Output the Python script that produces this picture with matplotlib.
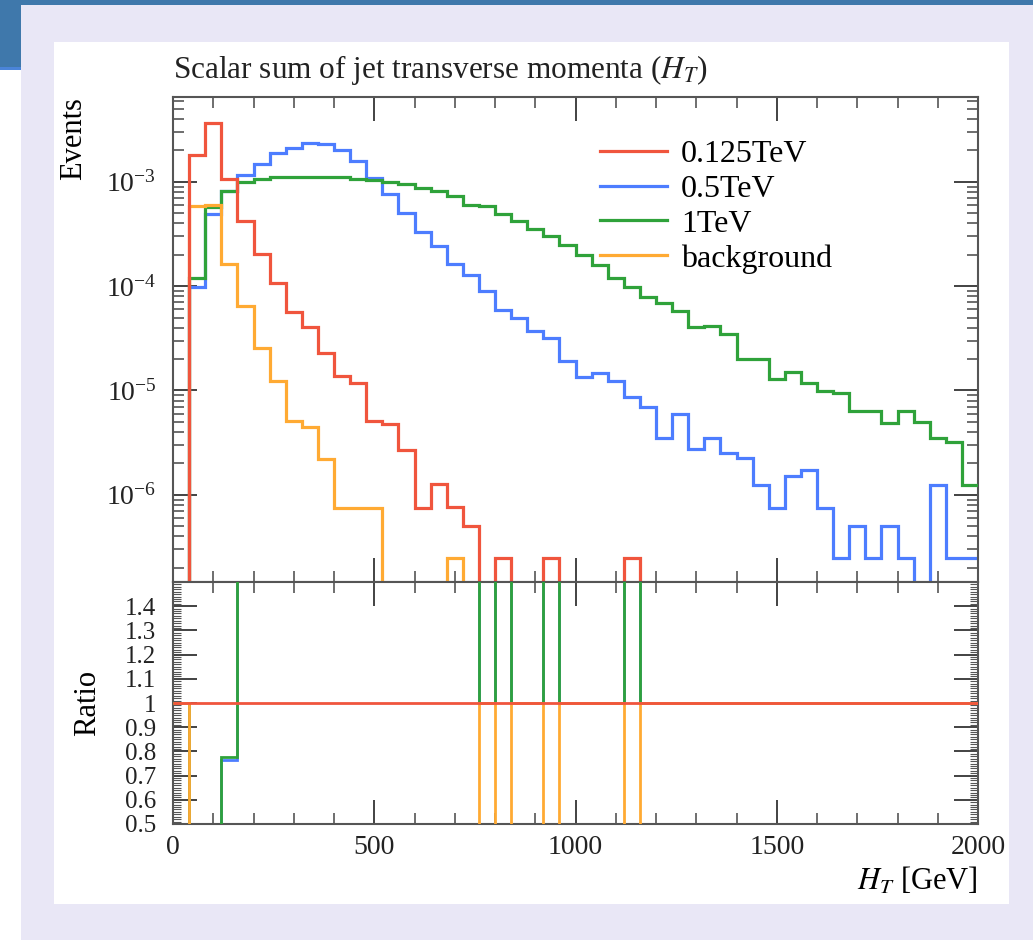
import numpy as np
import matplotlib
matplotlib.use('Agg')
import matplotlib.pyplot as plt
from matplotlib.patches import Rectangle
from matplotlib.ticker import MultipleLocator, LogLocator, NullFormatter, FixedLocator, FixedFormatter

plt.rcParams['font.family'] = ['Liberation Serif', 'DejaVu Serif']
plt.rcParams['mathtext.fontset'] = 'stix'

# 40 GeV bins from 0 to 2000 GeV
bin_edges = np.arange(0, 2001, 40)

# Normalised event counts per bin
ht_0125tev = [0, 1.8e-3, 3.7e-3, 1.06e-3, 4.2e-4, 2.03e-4, 1.08e-4, 5.7e-5, 4.1e-5, 2.3e-5,
              1.38e-5, 1.19e-5, 5.1e-6, 4.75e-6, 2.7e-6, 7.4e-7, 1.26e-6, 7.7e-7, 5e-7, 0,
              2.47e-7, 0, 0, 2.47e-7, 0, 0, 0, 0, 2.47e-7, 0,
              0, 0, 0, 0, 0, 0, 0, 0, 0, 0,
              0, 0, 0, 0, 0, 0, 0, 0, 0, 0]
ht_05tev = [0, 9.9e-5, 4.93e-4, 8.1e-4, 1.17e-3, 1.49e-3, 1.88e-3, 2.1e-3, 2.35e-3, 2.3e-3,
            2.03e-3, 1.6e-3, 1.08e-3, 7.7e-4, 5.0e-4, 3.34e-4, 2.4e-4, 1.64e-4, 1.28e-4, 8.9e-5,
            5.9e-5, 4.9e-5, 3.75e-5, 3.17e-5, 1.93e-5, 1.34e-5, 1.46e-5, 1.22e-5, 8.7e-6, 7.0e-6,
            3.5e-6, 6.0e-6, 2.74e-6, 3.5e-6, 2.5e-6, 2.24e-6, 1.24e-6, 7.4e-7, 1.5e-6, 1.73e-6,
            7.4e-7, 2.47e-7, 5e-7, 2.47e-7, 5e-7, 2.47e-7, 0, 1.24e-6, 2.47e-7, 2.47e-7]
ht_1tev = [0, 1.19e-4, 5.7e-4, 8.25e-4, 9.9e-4, 1.06e-3, 1.11e-3, 1.12e-3, 1.10e-3, 1.10e-3,
           1.10e-3, 1.06e-3, 1.045e-3, 1.0e-3, 9.5e-4, 8.8e-4, 8.2e-4, 7.3e-4, 6.0e-4, 5.8e-4,
           4.93e-4, 4.17e-4, 3.52e-4, 3.0e-4, 2.49e-4, 2.0e-4, 1.6e-4, 1.19e-4, 9.9e-5, 7.9e-5,
           6.9e-5, 5.8e-5, 4.05e-5, 4.17e-5, 3.5e-5, 2.0e-5, 2.0e-5, 1.28e-5, 1.49e-5, 1.17e-5,
           9.8e-6, 9.4e-6, 6.4e-6, 6.4e-6, 4.9e-6, 6.4e-6, 5.0e-6, 3.5e-6, 3.24e-6, 1.24e-6]
ht_background = [0, 5.8e-4, 6.0e-4, 1.64e-4, 6.5e-5, 2.58e-5, 1.24e-5, 5.1e-6, 4.5e-6, 2.2e-6,
                 7.4e-7, 7.4e-7, 7.4e-7, 0, 0, 0, 0, 2.47e-7, 0, 0,
                 0, 0, 0, 0, 0, 0, 0, 0, 0, 0,
                 0, 0, 0, 0, 0, 0, 0, 0, 0, 0,
                 0, 0, 0, 0, 0, 0, 0, 0, 0, 0]

labels = ['0.125TeV', '0.5TeV', '1TeV', 'background']
colors = ['#f0553d', '#4d7dff', '#2fa23a', '#ffaa33']

ratio_ticks = [0.5, 0.6, 0.7, 0.8, 0.9, 1.0, 1.1, 1.2, 1.3, 1.4]
ratio_labels = ['0.5', '0.6', '0.7', '0.8', '0.9', '1', '1.1', '1.2', '1.3', '1.4']
x_ticks = [0, 500, 1000, 1500, 2000]

W, H = 1033, 940
fig = plt.figure(figsize=(W / 100, H / 100), dpi=100)

# slide background around the plot
def px_rect(x0, y0, x1, y1, color):
    fig.add_artist(Rectangle((x0 / W, 1 - y1 / H), (x1 - x0) / W, (y1 - y0) / H,
                             transform=fig.transFigure, color=color, lw=0, zorder=-10))

px_rect(21, 5, W, H, '#e9e7f6')
px_rect(0, 0, W, 5, '#3f78ab')
px_rect(0, 0, 21, 70, '#3f78ab')
px_rect(0, 67, 21, 70, '#4a84d8')
px_rect(54, 42, 1009, 904, 'white')

ax = fig.add_axes([173 / W, 1 - 582 / H, (978 - 173) / W, (582 - 97) / H])
rax = fig.add_axes([173 / W, 1 - 824 / H, (978 - 173) / W, (824 - 582) / H], sharex=ax)

series = [ht_0125tev, ht_05tev, ht_1tev, ht_background]
ref = np.array(ht_0125tev)
zorders = [5, 2, 3, 4]
for vals, lab, col, z in zip(series, labels, colors, zorders):
    vals = np.array(vals)
    ax.stairs(vals, bin_edges, baseline=None, color=col, lw=2.3, label=lab, zorder=z)
    ratio = np.where(ref > 0, vals / np.where(ref > 0, ref, 1), 1.0)
    rax.stairs(ratio, bin_edges, baseline=None, color=col, lw=2.0, zorder=z)

ax.set_yscale('log')
ax.set_xlim(0, 2000)
ax.set_ylim(1.46e-7, 6.5e-3)
rax.set_ylim(0.5, 1.5)

spine_col = '#555555'
for a in (ax, rax):
    for s in a.spines.values():
        s.set_color(spine_col)
        s.set_linewidth(1.5)
    a.tick_params(which='both', direction='in', top=True, right=True, color=spine_col, width=1.2)
    a.tick_params(which='major', length=17)
    a.tick_params(which='minor', length=8)
    a.tick_params(labelsize=20, colors='#222222', labelcolor='#222222', pad=9)
    a.xaxis.set_major_locator(FixedLocator(x_ticks))
    a.xaxis.set_minor_locator(MultipleLocator(100))

ax.yaxis.set_major_locator(LogLocator(base=10, numticks=20))
ax.yaxis.set_minor_locator(LogLocator(base=10, subs=np.arange(2, 10), numticks=20))
ax.yaxis.set_minor_formatter(NullFormatter())
ax.tick_params(axis='x', labelbottom=False)
ax.tick_params(axis='y', pad=12)

rax.yaxis.set_major_locator(FixedLocator(ratio_ticks))
rax.yaxis.set_major_formatter(FixedFormatter(ratio_labels))
rax.yaxis.set_minor_locator(MultipleLocator(0.01))
rax.tick_params(axis='y', which='minor', length=6, width=0.8)
rax.tick_params(axis='y', labelsize=18, pad=12)
rax.tick_params(axis='x', pad=8)

ax.set_ylabel('Events', fontsize=22, loc='top')
ax.yaxis.set_label_coords(-0.106, 1.0)
rax.set_ylabel('Ratio', fontsize=22)
rax.yaxis.set_label_coords(-0.088, 0.5)
rax.set_xlabel('$H_T$ [GeV]', fontsize=22, loc='right')

fig.text(173 / W, 1 - 70 / H, 'Scalar sum of jet transverse momenta ($H_T$)',
         fontsize=22.5, ha='left', va='center', color='#222222')

ax.legend(loc='upper left', bbox_to_anchor=(0.53, 0.912), frameon=False, fontsize=23,
          handlelength=2.1, handletextpad=0.45, labelspacing=0.17, borderaxespad=0, borderpad=0)

fig.savefig('out.png', dpi=100)
